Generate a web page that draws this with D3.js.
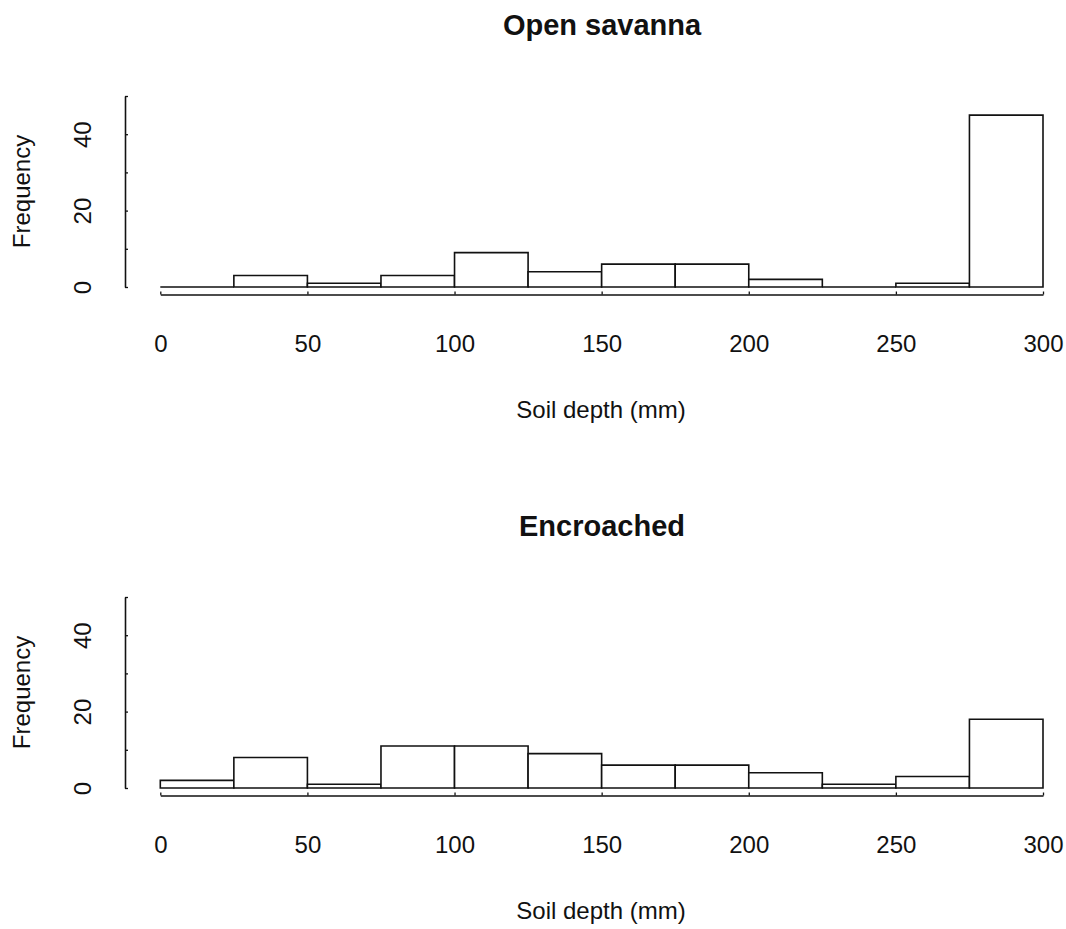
<!DOCTYPE html>
<html>
<head>
<meta charset="utf-8">
<script src="https://cdn.jsdelivr.net/npm/d3@7"></script>
<style>
  html, body { margin: 0; padding: 0; background: #fff; }
  svg { display: block; }
  text { font-family: "Liberation Sans", Arial, sans-serif; fill: #111; }
</style>
</head>
<body>
<svg id="chart" width="1066" height="929"></svg>
<script>
// ---- data ----
const binEdges = [0, 25, 50, 75, 100, 125, 150, 175, 200, 225, 250, 275, 300];
const openSavannaCounts = [0, 3, 1, 3, 9, 4, 6, 6, 2, 0, 1, 45];
const encroachedCounts  = [2, 8, 1, 11, 11, 9, 6, 6, 4, 1, 3, 18];
const panelTitles = ["Open savanna", "Encroached"];
const xTickValues = [0, 50, 100, 150, 200, 250, 300];
const yTickValues = [0, 10, 20, 30, 40, 50];
const yTickLabels = ["0", "", "20", "", "40", ""];
const xAxisTitle = "Soil depth (mm)";
const yAxisTitle = "Frequency";

// ---- layout ----
const svg = d3.select("#chart");
svg.append("rect").attr("width", 1066).attr("height", 929).attr("fill", "#fff");

const panels = [
  { title: panelTitles[0], counts: openSavannaCounts, offset: 0 },
  { title: panelTitles[1], counts: encroachedCounts, offset: 501 }
];

const x = d3.scaleLinear().domain([0, 300]).range([160.3, 1043]);

panels.forEach(p => {
  const g = svg.append("g").attr("transform", `translate(0,${p.offset})`);
  const y = d3.scaleLinear().domain([0, 50]).range([287, 96]);

  // title
  g.append("text")
    .attr("x", 602).attr("y", 35)
    .attr("text-anchor", "middle")
    .style("font-size", "29px").style("font-weight", "bold")
    .text(p.title);

  // bars (drawn as closed paths so that zero-count bins still show as a line)
  const bins = p.counts.map((c, i) => ({ x0: binEdges[i], x1: binEdges[i + 1], c }));
  g.selectAll("path.bar").data(bins).join("path")
    .attr("class", "bar")
    .attr("d", d => {
      const path = d3.path();
      path.moveTo(x(d.x0), y(0));
      path.lineTo(x(d.x0), y(d.c));
      path.lineTo(x(d.x1), y(d.c));
      path.lineTo(x(d.x1), y(0));
      path.closePath();
      return path.toString();
    })
    .attr("fill", "#fff")
    .attr("stroke", "#111")
    .attr("stroke-width", 1.6);

  // x axis
  const xa = g.append("g").attr("transform", "translate(0,294.5)")
    .call(d3.axisBottom(x).tickValues(xTickValues).tickSize(-3).tickSizeOuter(0).tickPadding(40.5)
      .tickFormat(d3.format("d")));
  xa.select(".domain").attr("stroke", "#111").attr("stroke-width", 1.6);
  xa.selectAll(".tick line").attr("stroke", "#111").attr("stroke-width", 1.3);
  xa.selectAll(".tick text").style("font-size", "24px").attr("fill", "#111")
    .style("font-family", "'Liberation Sans', Arial, sans-serif");

  // y axis
  const ya = g.append("g").attr("transform", "translate(125,0)")
    .call(d3.axisLeft(y).tickValues(yTickValues).tickSize(-3).tickSizeOuter(0)
      .tickFormat((d, i) => yTickLabels[i]));
  ya.select(".domain").attr("stroke", "#111").attr("stroke-width", 1.6);
  ya.selectAll(".tick line").attr("stroke", "#111").attr("stroke-width", 1.3);
  ya.selectAll(".tick text")
    .attr("x", 0).attr("dy", 0)
    .attr("transform", "translate(-34,0) rotate(-90)")
    .attr("text-anchor", "middle")
    .attr("fill", "#111")
    .style("font-size", "24px")
    .style("font-family", "'Liberation Sans', Arial, sans-serif");

  // axis titles
  g.append("text")
    .attr("x", 601).attr("y", 418)
    .attr("text-anchor", "middle")
    .style("font-size", "24px")
    .text(xAxisTitle);
  g.append("text")
    .attr("transform", "translate(30,191.5) rotate(-90)")
    .attr("text-anchor", "middle")
    .style("font-size", "24px")
    .text(yAxisTitle);
});
</script>
</body>
</html>
